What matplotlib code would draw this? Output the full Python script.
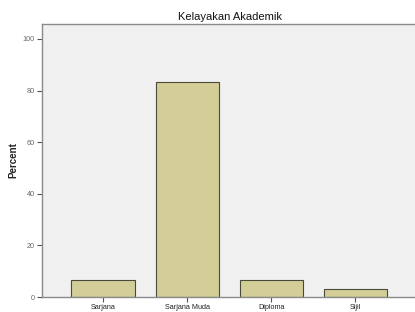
import matplotlib
matplotlib.use('Agg')
import matplotlib.pyplot as plt

# Data
categories = ['Sarjana', 'Sarjana Muda', 'Diploma', 'Sijil']
percent = [6.7, 83.3, 6.7, 3.3]
y_ticks = [0, 20, 40, 60, 80, 100]

plt.rcParams['font.family'] = ['Liberation Sans', 'DejaVu Sans']

fig = plt.figure(figsize=(4.15, 3.12), dpi=100)
ax = fig.add_axes([0.101, 0.048, 0.905, 0.875])
ax.set_facecolor('#f0f0f0')

ax.bar(range(len(categories)), percent, width=0.75, color='#d3ce98',
       edgecolor='#4a4a3a', linewidth=0.8, zorder=2)

ax.set_xlim(-0.726, 3.74)
ax.set_ylim(0, 105.8)
ax.set_xticks(range(len(categories)))
ax.set_xticklabels(categories)
ax.set_yticks(y_ticks)

for side in ['left', 'bottom', 'top']:
    ax.spines[side].set_color('#8a8a8a')
    ax.spines[side].set_linewidth(1.0)
ax.spines['right'].set_visible(False)

ax.tick_params(axis='both', direction='out', length=3.5, width=0.8,
               colors='#555555', labelsize=5.2, pad=1.5)
ax.tick_params(axis='y', labelcolor='#666666')
ax.tick_params(axis='x', labelcolor='#222222')

ax.set_ylabel('Percent', fontsize=7, fontweight='bold', color='#222222', labelpad=3)
ax.set_title('Kelayakan Akademik', fontsize=8, color='#111111', pad=3)

fig.savefig('out.png', dpi=100, facecolor='white')
